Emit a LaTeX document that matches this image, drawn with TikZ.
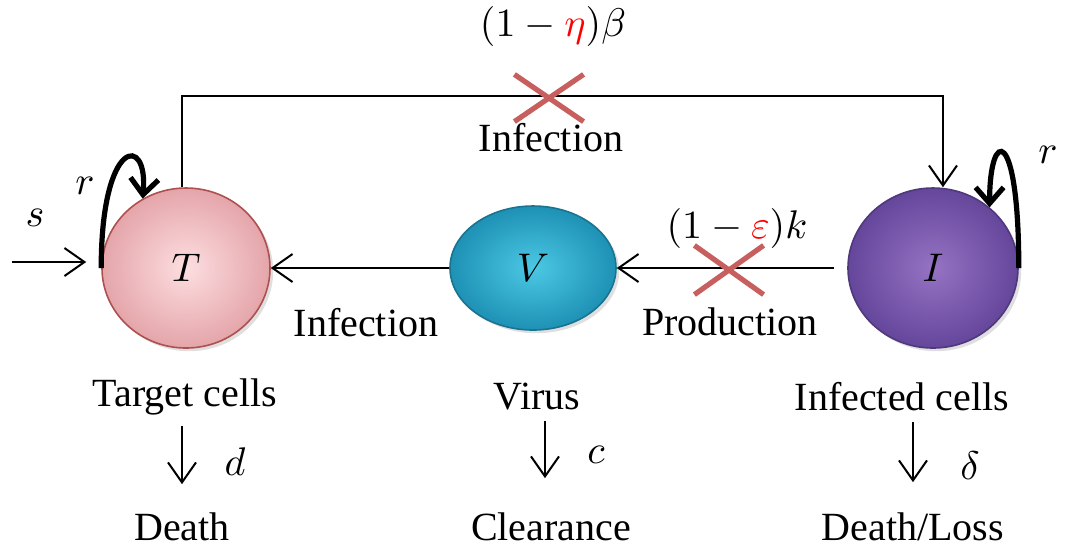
\documentclass[tikz,border=0pt]{standalone}
\usepackage{fontspec}
\setmainfont{Liberation Serif}
\usetikzlibrary{arrows.meta, calc, shapes.geometric, shapes.misc, shadows}

\definecolor{tlight}{RGB}{253,222,224}
\definecolor{tdark}{RGB}{228,165,170}
\definecolor{tborder}{RGB}{175,80,80}
\definecolor{vlight}{RGB}{75,200,228}
\definecolor{vdark}{RGB}{30,145,180}
\definecolor{ilight}{RGB}{150,115,195}
\definecolor{idark}{RGB}{100,70,155}
\definecolor{xred}{RGB}{200,95,95}

\tikzset{
  cell/.style n args={3}{ellipse, draw=#3, line width=0.4pt, inner color=#1, outer color=#2,
    drop shadow={opacity=0.25, shadow xshift=0.8pt, shadow yshift=-0.8pt}},
  flow/.style={-{Straight Barb[length=5pt,width=7pt]}, line width=0.5pt},
  loopy/.style={-{Straight Barb[length=4pt,width=7pt]}, line width=1.3pt},
  block/.style={cross out, draw=xred, line width=1.3pt, inner sep=0pt},
  lbl/.style={inner sep=1pt}
}

\begin{document}
\begin{tikzpicture}[x=0.25pt, y=-0.25pt]
    \useasboundingbox (0,0) rectangle (1075,551);

    % cells
    \node[cell={tlight}{tdark}{tborder}, minimum width=42pt, minimum height=40pt] (T) at (186,268) {$T$};
    \node[cell={vlight}{vdark}{vdark!80!black}, minimum width=41.5pt, minimum height=31pt] (V) at (533,268) {$V$};
    \node[cell={ilight}{idark}{idark!80!black}, minimum width=42.5pt, minimum height=40pt] (I) at (933,268) {$I$};

    % names and fates
    \node[lbl] (tc) at (185,397) {Target cells};
    \node[lbl] (vl) at (537,397) {Virus};
    \node[lbl] (ic) at (902,397) {Infected cells};
    \node[lbl] (td) at (182,527) {Death};
    \node[lbl] (cl) at (551,527) {Clearance};
    \node[lbl] (il) at (913,527) {Death/Loss};

    \draw[flow, shorten <=1.5pt, shorten >=6pt] (tc.south -| td.north) -- (td.north);
    \draw[flow, shorten <=1.5pt, shorten >=7.5pt] ([xshift=2pt]vl.south) -- ([xshift=2pt]vl.south |- cl.north);
    \draw[flow, shorten <=1.5pt, shorten >=6.5pt] (ic.south -| il.north) -- (il.north);
    \node[lbl] (dd) at (235,462) {$d$};
    \node[lbl] (cc) at (596,455) {$c$};
    \node[lbl] (dl) at (970,466) {$\delta$};

    % source and proliferation
    \coordinate (sin) at (12,262);
    \draw[flow, shorten >=3.75pt] (sin) -- (sin -| T.west);
    \node[lbl] (s) at (35,218) {$s$};
    \draw[loopy] (T.west) .. controls +(0,-131) and +(6,-65) .. (T.122);
    \node[lbl] (rt) at (85,186) {$r$};
    \draw[loopy] (I.east) .. controls +(0,-143) and +(0,-80) .. (I.47);
    \node[lbl] (ri) at (1048,155) {$r$};

    % infection of target cells
    \draw[flow] ([xshift=-1pt]T.north) -- ++(0,-91) -| ([xshift=2.5pt]I.north);
    \node[block, minimum width=16pt, minimum height=10.5pt] (x1) at (549,98) {};
    \node[lbl] (beta) at (553,26) {$(1-\textcolor{red}{\eta})\beta$};
    \node[lbl] (inf1) at (551,138) {Infection};

    % production and infection by virus
    \draw[flow, shorten <=3.25pt] (I.west) -- (V.east);
    \node[block, minimum width=16pt, minimum height=11pt] (x2) at (729,270) {};
    \node[lbl] (kk) at (737,228) {$(1-\textcolor{red}{\varepsilon})k$};
    \node[lbl] (prod) at (730,322) {Production};
    \draw[flow] (V.west) -- (T.east);
    \node[lbl] (inf2) at (366,323) {Infection};
\end{tikzpicture}
\end{document}
